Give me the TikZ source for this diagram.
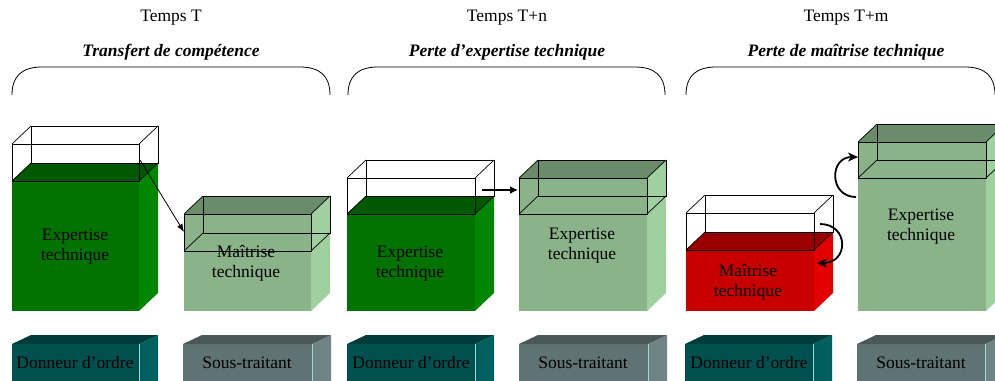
\documentclass[tikz,border=0pt]{standalone}
\usepackage{fontspec}
\setmainfont{Liberation Serif}
\usetikzlibrary{arrows.meta}

\definecolor{dgFront}{RGB}{0,115,0}
\definecolor{dgSide}{RGB}{0,134,0}
\definecolor{dgTop}{RGB}{0,88,0}
\definecolor{lgFront}{RGB}{138,179,138}
\definecolor{lgSide}{RGB}{160,207,160}
\definecolor{lgTop}{RGB}{107,140,107}
\definecolor{rdFront}{RGB}{200,0,0}
\definecolor{rdSide}{RGB}{226,0,0}
\definecolor{rdTop}{RGB}{155,0,0}
\definecolor{tlFront}{RGB}{0,80,80}
\definecolor{tlSide}{RGB}{0,96,96}
\definecolor{tlTop}{RGB}{0,60,60}
\definecolor{gyFront}{RGB}{95,115,115}
\definecolor{gySide}{RGB}{112,132,132}
\definecolor{gyTop}{RGB}{74,88,88}
\definecolor{edgeLight}{RGB}{160,215,215}

% solid cuboid: x1 x2 ytop ybot dx dy front side top
\newcommand{\solidcube}[9]{%
  \fill[#7] (#1,#3) rectangle (#2,#4);
  \fill[#8] (#2,#3) -- ++(#5,-#6) -- (#2+#5,#4-#6) -- (#2,#4) -- cycle;
  \fill[#9] (#1,#3) -- ++(#5,-#6) -- (#2+#5,#3-#6) -- (#2,#3) -- cycle;
}
% wireframe cuboid: x1 x2 ytop ybot dx dy
\newcommand{\wirecube}[6]{%
  \draw[wire] (#1,#3) rectangle (#2,#4);
  \draw[wire] (#1+#5,#3-#6) rectangle (#2+#5,#4-#6);
  \draw[wire] (#1,#3) -- ++(#5,-#6) (#2,#3) -- ++(#5,-#6)
              (#1,#4) -- ++(#5,-#6) (#2,#4) -- ++(#5,-#6);
}
% actor block at the bottom: x1 x2 front side top
\newcommand{\actorblock}[5]{%
  \solidcube{#1}{#2}{344}{395}{19}{9}{#3}{#4}{#5}
  \draw[edgeLight, line width=0.8pt] (#2,344) -- (#2,395);
}

\tikzset{
  wire/.style={draw=black, line width=0.7pt},
  brace/.style={draw=black, line width=0.8pt},
  lbl/.style={font=\fontsize{17.5}{20}\selectfont, align=center, inner sep=0pt},
  ttl/.style={font=\fontsize{17.5}{20}\selectfont, inner sep=0pt},
  sttl/.style={font=\fontsize{17.5}{20}\selectfont\bfseries\itshape, inner sep=0pt},
  thinarrow/.style={draw=black, line width=0.8pt, -{Latex[length=8pt,width=6pt]}},
  thickarrow/.style={draw=black, line width=1.8pt, -{Latex[length=8pt,width=8pt]}},
  curvearrow/.style={draw=black, line width=1.8pt, -{Stealth[length=10pt,width=9pt,inset=3pt]}},
}

\begin{document}
\begin{tikzpicture}[x=1pt, y=-1pt]
\useasboundingbox (0,0) rectangle (995,380);
\clip (0,0) rectangle (995,380);

% headings
\node[ttl]  (t1) at (171,18) {Temps T};
\node[sttl] (s1) at (171,52) {Transfert de compétence};
\node[ttl]  (t2) at (507,18) {Temps T+n};
\node[sttl] (s2) at (507,52) {Perte d’expertise technique};
\node[ttl]  (t3) at (846,18) {Temps T+m};
\node[sttl] (s3) at (846,52) {Perte de maîtrise technique};

% grouping brackets
\draw[brace] (12,95) .. controls (12,76) and (22,67) .. (42,67) -- (300,67)
             .. controls (320,67) and (330,76) .. (330,95);
\draw[brace] (348,95) .. controls (348,76) and (358,67) .. (378,67) -- (635,67)
             .. controls (655,67) and (665,76) .. (665,95);
\draw[brace] (686,95) .. controls (686,76) and (696,67) .. (716,67) -- (965,67)
             .. controls (985,67) and (995,76) .. (995,95);

% ---- Temps T ----
\solidcube{12}{139}{181}{311}{19}{18}{dgFront}{dgSide}{dgTop}
\wirecube{12}{139}{144}{181}{19}{18}
\node[lbl] (e1) at (75,247) {Expertise\\technique};

\solidcube{184}{311}{214}{311}{19}{18}{lgFront}{lgSide}{lgTop}
\wirecube{184}{311}{214}{251}{19}{18}
\node[lbl] (m1) at (246,263) {Maîtrise\\technique};

\coordinate (a1s) at (140,160);
\coordinate (a1e) at (184,232);
\draw[thinarrow] (a1s) -- (a1e);

% ---- Temps T+n ----
\solidcube{347}{475}{214}{311}{19}{18}{dgFront}{dgSide}{dgTop}
\wirecube{347}{475}{178}{214}{19}{18}
\node[lbl] (e2) at (410,264) {Expertise\\technique};

\solidcube{519}{647}{178}{311}{19}{18}{lgFront}{lgSide}{lgTop}
\wirecube{519}{647}{178}{214}{19}{18}
\node[lbl] (e3) at (582,246) {Expertise\\technique};

\coordinate (a2s) at (482,190);
\coordinate (a2e) at (518,190);
\draw[thickarrow] (a2s) -- (a2e);

% ---- Temps T+m ----
\solidcube{686}{814}{250}{311}{19}{18}{rdFront}{rdSide}{rdTop}
\wirecube{686}{814}{213}{250}{19}{18}
\node[lbl] (m2) at (748,282) {Maîtrise\\technique};

\solidcube{858}{986}{142}{311}{19}{18}{lgFront}{lgSide}{lgTop}
\wirecube{858}{986}{142}{178}{19}{18}
\node[lbl] (e4) at (921,227) {Expertise\\technique};

\coordinate (c1s) at (856,197);
\coordinate (c1e) at (858,157);
\draw[curvearrow] (c1s) .. controls (829,197) and (829,157) .. (c1e);
\coordinate (c2s) at (820,224);
\coordinate (c2e) at (817,263);
\draw[curvearrow] (c2s) .. controls (849,224) and (849,263) .. (c2e);

% ---- actors ----
\actorblock{12}{139}{tlFront}{tlSide}{tlTop}
\node[lbl] (d1) at (75,363) {Donneur d’ordre};
\actorblock{183}{312}{gyFront}{gySide}{gyTop}
\node[lbl] (u1) at (247,363) {Sous-traitant};
\actorblock{347}{475}{tlFront}{tlSide}{tlTop}
\node[lbl] (d2) at (411,363) {Donneur d’ordre};
\actorblock{519}{648}{gyFront}{gySide}{gyTop}
\node[lbl] (u2) at (583,363) {Sous-traitant};
\actorblock{685}{813}{tlFront}{tlSide}{tlTop}
\node[lbl] (d3) at (749,363) {Donneur d’ordre};
\actorblock{857}{985}{gyFront}{gySide}{gyTop}
\node[lbl] (u3) at (921,363) {Sous-traitant};
\end{tikzpicture}
\end{document}
